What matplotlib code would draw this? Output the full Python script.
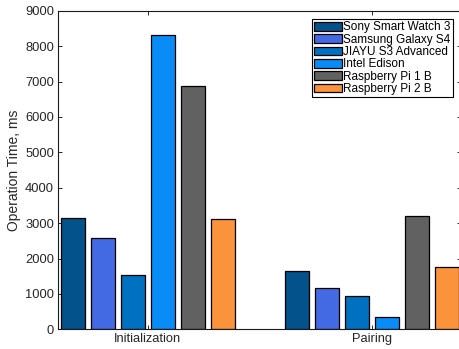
import numpy as np
import matplotlib
matplotlib.use("Agg")
import matplotlib.pyplot as plt

plt.rcParams['font.family'] = ['Liberation Sans', 'DejaVu Sans']

# Operation times (ms) per device for each phase
phases = ["Initialization", "Pairing"]
devices = ["Sony Smart Watch 3", "Samsung Galaxy S4", "JIAYU S3 Advanced",
           "Intel Edison", "Raspberry Pi 1 B", "Raspberry Pi 2 B"]
sony = [3140, 1645]
samsung = [2575, 1175]
jiayu = [1530, 930]
edison = [8325, 340]
rpi1 = [6875, 3200]
rpi2 = [3110, 1750]
series = [sony, samsung, jiayu, edison, rpi1, rpi2]
colors = ["#04528c", "#436ae2", "#0070c0", "#0a8cf7", "#616161", "#fb923c"]

W, H = 460, 349
fig = plt.figure(figsize=(W / 100, H / 100), dpi=100)
ax = fig.add_axes([58.3 / W, (H - 329.3) / H, (461.5 - 58.3) / W, (329.3 - 10.7) / H])

txt = "#262626"
x = np.arange(1, len(phases) + 1)
n = len(series)
group_w = 0.8
step = group_w / n
bar_w = step * 0.8
for i, (vals, c, name) in enumerate(zip(series, colors, devices)):
    offs = (i - (n - 1) / 2) * step
    ax.bar(x + offs, vals, width=bar_w, color=c, edgecolor="black",
           linewidth=0.9, label=name, zorder=2)

ax.set_xlim(0.6, 2.4)
ax.set_ylim(0, 9000)
ax.set_yticks(np.arange(0, 9001, 1000))
ax.set_xticks(x)
ax.set_xticklabels(phases)
ax.tick_params(direction="in", length=3, width=0.7, colors=txt,
               labelsize=9.3, top=True, right=True, pad=3)
for s in ax.spines.values():
    s.set_linewidth(0.8)
    s.set_color("#1a1a1a")
ax.set_ylabel("Operation Time, ms", fontsize=10, color=txt, labelpad=3)

leg = ax.legend(loc="upper right", fontsize=8.5, frameon=True, fancybox=False,
                edgecolor="black", framealpha=1, borderaxespad=0.7,
                handlelength=2.4, handleheight=0.75, handletextpad=0.1,
                labelspacing=0.03, borderpad=0.2)
leg.get_frame().set_linewidth(0.8)
for t in leg.get_texts():
    t.set_color("black")

fig.savefig("out.png", dpi=100)
